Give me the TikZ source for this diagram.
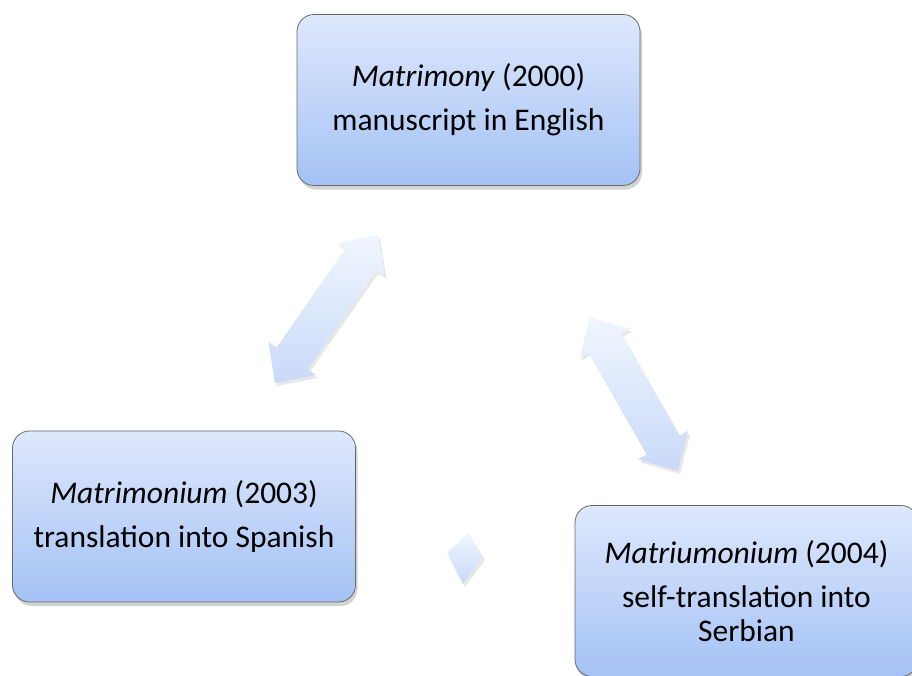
\documentclass[tikz,border=0pt]{standalone}
\usepackage{fontspec}
\setmainfont{Carlito}
\usetikzlibrary{calc,shadows}
\definecolor{boxtop}{RGB}{222,232,252}
\definecolor{boxbot}{RGB}{164,194,245}
\definecolor{arrtop}{RGB}{241,246,254}
\definecolor{arrbot}{RGB}{200,217,248}
\definecolor{boxline}{RGB}{105,105,105}
\tikzset{
  box/.style={rounded corners=17pt, draw=boxline, line width=0.8pt,
    top color=boxtop, bottom color=boxbot,
    minimum width=343pt, minimum height=171pt, align=center, inner sep=0pt,
    font=\fontsize{31.5}{34}\selectfont,
    drop shadow={opacity=0.35, shadow xshift=2pt, shadow yshift=-4pt}},
  arrowshape/.style={top color=arrtop, bottom color=arrbot,
    drop shadow={opacity=0.18, shadow xshift=2pt, shadow yshift=-3pt}}
}
\newcommand\dblarrow[2]{%
  \coordinate (P) at ($(#1)!30pt!(#2)$);
  \coordinate (Q) at ($(#2)!30pt!(#1)$);
  \path[arrowshape] (#1) -- ($(P)!29pt!90:(#2)$) -- ($(P)!19pt!90:(#2)$)
    -- ($(Q)!19pt!90:(#2)$) -- ($(Q)!29pt!90:(#2)$) -- (#2)
    -- ($(Q)!29pt!-90:(#2)$) -- ($(Q)!19pt!-90:(#2)$)
    -- ($(P)!19pt!-90:(#2)$) -- ($(P)!29pt!-90:(#2)$) -- cycle;
}
\begin{document}
\begin{tikzpicture}[x=1pt,y=-1pt]
\useasboundingbox (0,0) rectangle (912,675);
\node[box] (top) at (468.5,100) {\textit{Matrimony} (2000)\\[10pt]manuscript in English};
\node[box] (left) at (184,516.5) {\textit{Matrimonium} (2003)\\[10pt]translation into Spanish};
\node[box] (right) at (746.5,591) {\textit{Matriumonium} (2004)\\[10pt]self-translation into\\Serbian};
\coordinate (la1) at (378,235);
\coordinate (la2) at (275,383);
\coordinate (ra1) at (590,317);
\coordinate (ra2) at (678,471);
\dblarrow{la1}{la2}
\dblarrow{ra1}{ra2}
\coordinate (d1) at (468,533);
\coordinate (d2) at (483,557);
\coordinate (d3) at (463,584);
\coordinate (d4) at (447,553);
\path[arrowshape] (d1) -- (d2) -- (d3) -- (d4) -- cycle;
\end{tikzpicture}
\end{document}
